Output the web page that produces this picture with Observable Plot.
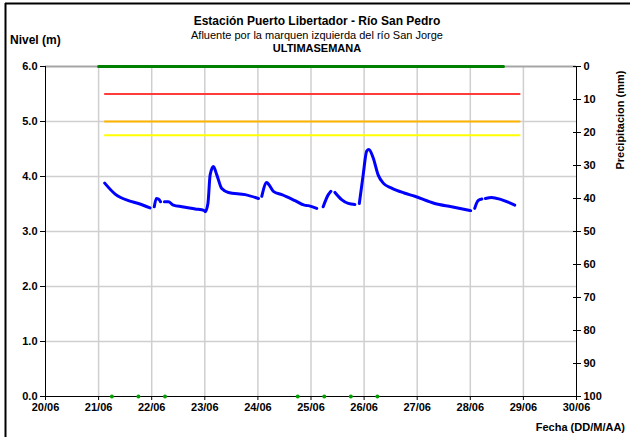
<!DOCTYPE html>
<html><head><meta charset="utf-8">
<script src="https://cdn.jsdelivr.net/npm/d3@7"></script>
<script src="https://cdn.jsdelivr.net/npm/@observablehq/plot@0.6"></script>
<style>
body{margin:0;background:#fff;}
#chart svg{display:block;}
</style>
</head><body><div id="chart"></div>
<script>
// ---- Data ----
const titulo = "Estación Puerto Libertador - Río San Pedro";
const subtitulo = "Afluente por la marquen izquierda del río San Jorge";
const subtitulo2 = "ULTIMASEMANA";
const etiquetaY = "Nivel (m)";
const etiquetaY2 = "Precipitacion (mm)";
const etiquetaX = "Fecha (DD/M/AA)";

const fechaInicio = "2024-06-20T00:00";
const fechaFin = "2024-06-30T00:00";
const nivelTicks = [0, 1, 2, 3, 4, 5, 6];
const precipTicks = [0, 10, 20, 30, 40, 50, 60, 70, 80, 90, 100];

// Nivel (m) – null marks a gap in the record
const nivelFechas = [
  "2024-06-21T02:45","2024-06-21T07:30","2024-06-21T13:30","2024-06-21T18:00","2024-06-21T23:15",
  "2024-06-22T00:10",
  "2024-06-22T01:10","2024-06-22T02:05","2024-06-22T03:05","2024-06-22T04:00",
  "2024-06-22T04:50",
  "2024-06-22T05:45","2024-06-22T07:30","2024-06-22T09:50","2024-06-22T13:40","2024-06-22T19:40","2024-06-22T23:50","2024-06-23T00:10",
  "2024-06-23T01:25","2024-06-23T02:25","2024-06-23T03:55","2024-06-23T05:25","2024-06-23T07:40","2024-06-23T10:40","2024-06-23T18:15","2024-06-24T00:15",
  "2024-06-24T01:00",
  "2024-06-24T01:45","2024-06-24T04:00","2024-06-24T05:00","2024-06-24T07:00","2024-06-24T10:50","2024-06-24T16:50","2024-06-24T21:00","2024-06-24T22:50","2024-06-25T02:35",
  "2024-06-25T04:00",
  "2024-06-25T05:30","2024-06-25T07:50","2024-06-25T09:00",
  "2024-06-25T10:00",
  "2024-06-25T10:50","2024-06-25T13:50","2024-06-25T16:50","2024-06-25T19:50",
  "2024-06-25T20:50",
  "2024-06-25T21:50","2024-06-25T23:35","2024-06-26T01:10","2024-06-26T02:10","2024-06-26T04:05","2024-06-26T06:20","2024-06-26T08:40","2024-06-26T12:25","2024-06-26T18:05","2024-06-26T22:55","2024-06-27T07:55","2024-06-27T15:30","2024-06-28T00:10",
  "2024-06-28T01:00",
  "2024-06-28T02:00","2024-06-28T03:30","2024-06-28T05:15",
  "2024-06-28T06:00",
  "2024-06-28T06:50","2024-06-28T09:35","2024-06-28T14:00","2024-06-28T20:05"
];
const nivelValores = [
  3.88,3.68,3.56,3.51,3.43,
  null,
  3.45,3.60,3.59,3.54,
  null,
  3.54,3.54,3.48,3.45,3.41,3.38,3.36,
  3.51,4.03,4.18,4.03,3.78,3.71,3.67,3.60,
  null,
  3.64,3.89,3.85,3.73,3.67,3.56,3.48,3.47,3.42,
  null,
  3.45,3.67,3.73,
  null,
  3.71,3.58,3.51,3.49,
  null,
  3.51,4.03,4.46,4.49,4.34,4.03,3.88,3.79,3.70,3.64,3.51,3.45,3.38,
  null,
  3.42,3.56,3.59,
  null,
  3.60,3.62,3.58,3.48
];

// Niveles de alerta
const umbralValores = [5.5, 5.0, 4.75];
const umbralColores = ["#ff3b3b", "#ffb400", "#ffff00"];
const umbralInicio = "2024-06-21T02:45";
const umbralFin = "2024-06-28T22:50";

// Precipitación (mm)
const precipFechas = ["2024-06-21T00:00", "2024-06-28T15:00"];
const precipValores = [0, 0];

// Marcas verdes sobre nivel 0
const marcasFechas = ["2024-06-21T06:00","2024-06-21T18:00","2024-06-22T06:00","2024-06-24T18:00","2024-06-25T06:00","2024-06-25T18:00","2024-06-26T06:00"];
const marcasValores = [0, 0, 0, 0, 0, 0, 0];

// ---- Build ----
const T = s => new Date(s + ":00Z");
const x0 = T(fechaInicio), x1 = T(fechaFin);
const nivel = nivelFechas.map((f, i) => ({fecha: T(f), nivel: nivelValores[i]}));
const umbrales = umbralValores.map((v, i) => ({nivel: v, color: umbralColores[i]}));
const precip = precipFechas.map((f, i) => ({fecha: T(f), mm: precipValores[i]}));
const marcas = marcasFechas.map((f, i) => ({fecha: T(f), nivel: marcasValores[i]}));
const mmANivel = mm => 6 - mm * 0.06;  // secondary axis: 0 mm at top, 100 mm at bottom
const dias = d3.utcDay.range(x0, d3.utcDay.offset(x1, 1));
const diasInternos = dias.slice(1, -1);

const W = 630, H = 437;
const chart = Plot.plot({
  width: W, height: H,
  marginLeft: 45, marginRight: 54, marginTop: 66, marginBottom: 41,
  style: {fontFamily: "'Liberation Sans', Arial, sans-serif", fontSize: "11px", fontWeight: "bold", color: "#000", background: "#fff"},
  x: {type: "utc", domain: [x0, x1]},
  y: {domain: [0, 6]},
  color: {type: "identity"},
  marks: [
    Plot.gridX(diasInternos, {stroke: "#cfcfcf", strokeOpacity: 1, strokeWidth: 1.5}),
    Plot.gridY([1, 2, 3, 4, 5], {stroke: "#cfcfcf", strokeOpacity: 1, strokeWidth: 1.5}),
    Plot.ruleY([6], {stroke: "#a6a6a6", strokeWidth: 2}),
    Plot.ruleY(umbrales, {y: "nivel", x1: T(umbralInicio), x2: T(umbralFin), stroke: "color", strokeWidth: 2}),
    Plot.line(nivel, {x: "fecha", y: "nivel", stroke: "#0000ff", strokeWidth: 3, curve: "monotone-x", strokeLinejoin: "round", strokeLinecap: "round"}),
    Plot.line(precip, {x: "fecha", y: d => mmANivel(d.mm), stroke: "#008000", strokeWidth: 3, strokeDasharray: "10,1.2"}),
    Plot.ruleX([x0], {stroke: "#000", strokeWidth: 1}),
    Plot.ruleX([x1], {stroke: "#000", strokeWidth: 1}),
    Plot.ruleY([0], {stroke: "#000", strokeWidth: 1}),
    Plot.dot(marcas, {x: "fecha", y: "nivel", r: 2, fill: "#00a000", stroke: null}),
    Plot.axisY(nivelTicks, {anchor: "left", tickSize: 5, tickPadding: 3, tickFormat: d3.format(".1f"), label: null}),
    Plot.axisY(precipTicks.map(mmANivel), {anchor: "right", tickSize: 8, dx: -4, tickFormat: () => "", label: null}),
    Plot.axisY(precipTicks.map(mmANivel), {anchor: "right", tickSize: 0, tickPadding: 7, tickFormat: (v, i) => String(precipTicks[i]), label: null}),
    Plot.axisX(dias, {anchor: "bottom", tickSize: 4, tickPadding: 3, tickFormat: d3.utcFormat("%d/%m"), label: null})
  ]
});

const svg = d3.select(chart);
const F = "'Liberation Sans', Arial, sans-serif";
// frame border
svg.append("line").attr("x1", 5.5).attr("x2", 5.5).attr("y1", 3).attr("y2", H).attr("stroke", "#000").attr("stroke-width", 2);
svg.append("line").attr("x1", 5).attr("x2", W).attr("y1", 3.5).attr("y2", 3.5).attr("stroke", "#000").attr("stroke-width", 2);
const txt = (s, x, y, opts = {}) => svg.append("text").text(s)
  .attr("x", x).attr("y", y)
  .attr("font-family", F)
  .attr("font-size", opts.size || 11)
  .attr("font-weight", opts.weight || "bold")
  .attr("text-anchor", opts.anchor || "middle")
  .attr("fill", "#000");
txt(titulo, 317, 25, {size: 12});
txt(subtitulo, 317, 39, {weight: "normal"});
txt(subtitulo2, 317, 52);
txt(etiquetaY, 10, 44, {anchor: "start", size: 12});
txt(etiquetaX, 625, 431, {anchor: "end"});
svg.append("text").text(etiquetaY2)
  .attr("transform", "translate(624,120) rotate(-90)")
  .attr("font-family", F).attr("font-size", 11).attr("font-weight", "bold")
  .attr("text-anchor", "middle").attr("fill", "#000");

document.getElementById("chart").appendChild(chart);
</script>
</body></html>
